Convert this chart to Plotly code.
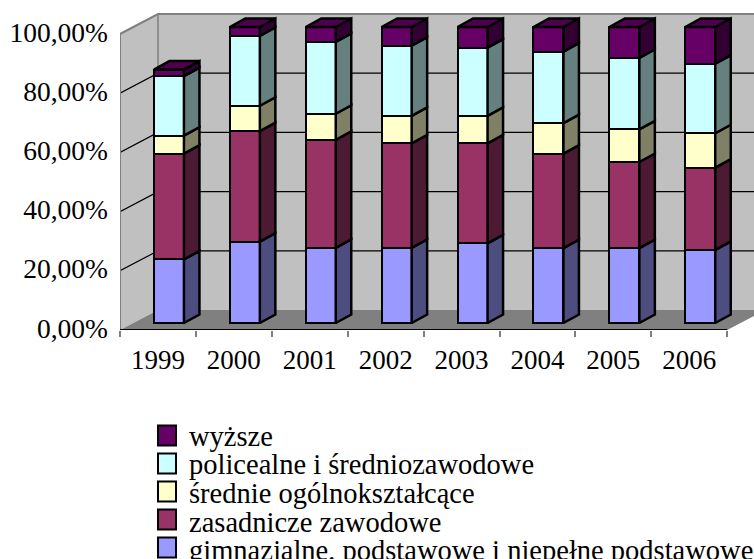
import plotly.graph_objects as go

years = ["1999", "2000", "2001", "2002", "2003", "2004", "2005", "2006"]
gimnazjalne = [21.5, 27.5, 25.4, 25.4, 26.9, 25.3, 25.3, 24.7]
zasadnicze = [35.7, 37.3, 36.5, 35.3, 33.8, 31.9, 29.1, 27.8]
srednie = [6.1, 8.6, 8.8, 9.3, 9.3, 10.3, 11.0, 11.6]
policealne = [20.1, 23.6, 24.3, 23.7, 23.0, 24.2, 24.2, 23.5]
wyzsze = [2.2, 3.0, 5.0, 6.3, 7.0, 8.3, 10.4, 12.4]

series_names = ["gimnazjalne, podstawowe i niepełne podstawowe", "zasadnicze zawodowe",
                "średnie ogólnokształcące", "policealne i średniozawodowe", "wyższe"]
series_values = [gimnazjalne, zasadnicze, srednie, policealne, wyzsze]
front_colors = ["#9999FF", "#993366", "#FFFFCC", "#CCFFFF", "#660066"]
side_colors = ["#4D4D80", "#4D1A33", "#808066", "#668080", "#330033"]
top_color = "#4D004D"
y_ticks = [0, 20, 40, 60, 80, 100]
y_tick_labels = ["0,00%", "20,00%", "40,00%", "60,00%", "80,00%", "100,00%"]

W, H = 754, 559
PX_L, PX_R, PX_T, PX_B = 120, 754, 10, 330
CAT_PX = 75.9
Y_PX = 2.96

x_hi = -0.5 + (PX_R - PX_L) / CAT_PX
y_hi = (PX_B - PX_T) / Y_PX
bar_dx_cat = 11 / CAT_PX
bar_dy = 7 / Y_PX
x2_lo, x2_hi = -0.5 - bar_dx_cat, x_hi - bar_dx_cat
y2_lo, y2_hi = -bar_dy, y_hi - bar_dy
label_dy = 2 / Y_PX

side_dx = 15.5 / CAT_PX
side_dy = 8.5 / Y_PX
half_w = 15 / CAT_PX
wall_dx = 38 / CAT_PX
wall_dy = 20 / Y_PX
EDGE = 2.5

fig = go.Figure()
# invisible traces keep the category axis and the tick-label axis active
fig.add_trace(go.Scatter(x=years, y=[0] * len(years), mode="markers",
                         marker=dict(opacity=0), xaxis="x", yaxis="y",
                         showlegend=False, hoverinfo="skip"))
fig.add_trace(go.Scatter(x=years, y=[0] * len(years), mode="markers",
                         marker=dict(opacity=0), xaxis="x", yaxis="y3",
                         showlegend=False, hoverinfo="skip"))

xpos = list(range(len(years)))
for name, vals, col in zip(series_names, series_values, front_colors):
    fig.add_trace(go.Bar(x=xpos, y=vals, name=name, width=2 * half_w,
                         marker=dict(color=col, line=dict(color="black", width=EDGE)),
                         xaxis="x2", yaxis="y2", showlegend=False))

# side and top faces built from the same series through the same axes
for i in xpos:
    base = 0
    xr = i + half_w
    for vals, col in zip(series_values, side_colors):
        t = base + vals[i]
        fig.add_trace(go.Scatter(
            x=[xr, xr + side_dx, xr + side_dx, xr, xr],
            y=[base, base + side_dy, t + side_dy, t, base],
            mode="lines", fill="toself", fillcolor=col,
            line=dict(color="black", width=EDGE), xaxis="x2", yaxis="y2",
            showlegend=False, hoverinfo="skip"))
        base = t
    xl = i - half_w
    fig.add_trace(go.Scatter(
        x=[xl, xr, xr + side_dx, xl + side_dx, xl],
        y=[base, base, base + side_dy, base + side_dy, base],
        mode="lines", fill="toself", fillcolor=top_color,
        line=dict(color="black", width=EDGE), xaxis="x2", yaxis="y2",
        showlegend=False, hoverinfo="skip"))

# walls, floor, gridlines (in plain y / numeric x2 coordinates)
shapes = []
fl = x2_lo
fr = fl + 8.0
def poly(pts, fill, line=None, lw=0):
    p = "M " + " L ".join(f"{a},{b}" for a, b in pts) + " Z"
    return dict(type="path", path=p, xref="x2", yref="y", fillcolor=fill, layer="below",
                line=dict(color=line or fill, width=lw))
far = x2_hi + 1
shapes.append(poly([(fl, 0), (fl + wall_dx, wall_dy), (fl + wall_dx, 100 + wall_dy), (fl, 100)],
                   "#C0C0C0", "#808080", 0))
shapes.append(poly([(fl + wall_dx, wall_dy), (far, wall_dy), (far, 100 + wall_dy), (fl + wall_dx, 100 + wall_dy)],
                   "#C0C0C0"))
shapes.append(poly([(fl, 0), (fl + wall_dx, wall_dy), (far, wall_dy), (fr + wall_dx, wall_dy), (fr, 0)], "#808080"))
for t in y_ticks[1:-1]:
    shapes.append(dict(type="path", xref="x2", yref="y", layer="below",
                       path=f"M {fl},{t} L {fl + wall_dx},{t + wall_dy} L {far},{t + wall_dy}",
                       line=dict(color="black", width=1.2)))
gray = dict(color="#808080", width=2)
shapes.append(dict(type="path", xref="x2", yref="y", layer="below",
                   path=f"M {fl},0 L {fl},100 L {fl + wall_dx},{100 + wall_dy} L {far},{100 + wall_dy}",
                   line=gray))
shapes.append(dict(type="path", xref="x2", yref="y", layer="below",
                   path=f"M {fl + wall_dx},{wall_dy} L {fl + wall_dx},{100 + wall_dy}",
                   line=dict(color="#808080", width=1.5)))
shapes.append(dict(type="line", xref="x2", yref="y", layer="above",
                   x0=fl, x1=fr, y0=0, y1=0, line=dict(color="black", width=2)))

# legend drawn as real text + swatches in paper coords
FONT = "Liberation Serif"
swatch_rows = [435.5, 463.5, 491.5, 519.5, 547.5]
text_rows = [436, 464.7, 493.4, 522.1, 550.8]
annotations = []
def fx(px):
    return (px - PX_L) / (PX_R - PX_L)
def fy(py):
    return (PX_B - py) / (PX_B - PX_T)
for row, trow, idx in zip(swatch_rows, text_rows, [4, 3, 2, 1, 0]):
    shapes.append(dict(type="rect", xref="paper", yref="paper", x0=fx(158), x1=fx(176),
                       y0=fy(row - 10), y1=fy(row + 10), fillcolor=front_colors[idx],
                       line=dict(color="black", width=2), layer="above"))
    annotations.append(dict(xref="paper", yref="paper", x=fx(187), y=fy(trow), text=series_names[idx],
                            showarrow=False, xanchor="left", yanchor="middle",
                            font=dict(family=FONT, size=28.5, color="black")))

fig.update_layout(
    width=W, height=H, autosize=False, showlegend=False,
    margin=dict(l=PX_L, r=W - PX_R, t=PX_T, b=H - PX_B, pad=0),
    paper_bgcolor="white", plot_bgcolor="white",
    barmode="stack", bargap=0,
    font=dict(family=FONT, size=27, color="black"),
    shapes=shapes, annotations=annotations,
    xaxis=dict(type="category", categoryorder="array", categoryarray=years,
               range=[-0.5, x_hi], tickson="boundaries", ticks="outside", ticklen=6,
               tickcolor="#808080", tickwidth=1.5, showgrid=False, zeroline=False,
               showline=False, ticklabelstandoff=11,
               tickfont=dict(family=FONT, size=27)),
    yaxis=dict(range=[0, y_hi], showticklabels=False,
               showgrid=False, zeroline=False, showline=False, ticks=""),
    yaxis3=dict(range=[-label_dy, y_hi - label_dy], overlaying="y", anchor="x", side="left",
                tickmode="array", tickvals=y_ticks, ticktext=y_tick_labels,
                showgrid=False, zeroline=False, showline=False, ticks="", ticklabelstandoff=11,
                tickfont=dict(family=FONT, size=27.5)),
    xaxis2=dict(range=[x2_lo, x2_hi], overlaying="x", visible=False, anchor="y"),
    yaxis2=dict(range=[y2_lo, y2_hi], overlaying="y", visible=False, anchor="x"),
)
fig.write_html("out.html", config={"displayModeBar": False},
               post_script="document.body.style.margin='0';")
